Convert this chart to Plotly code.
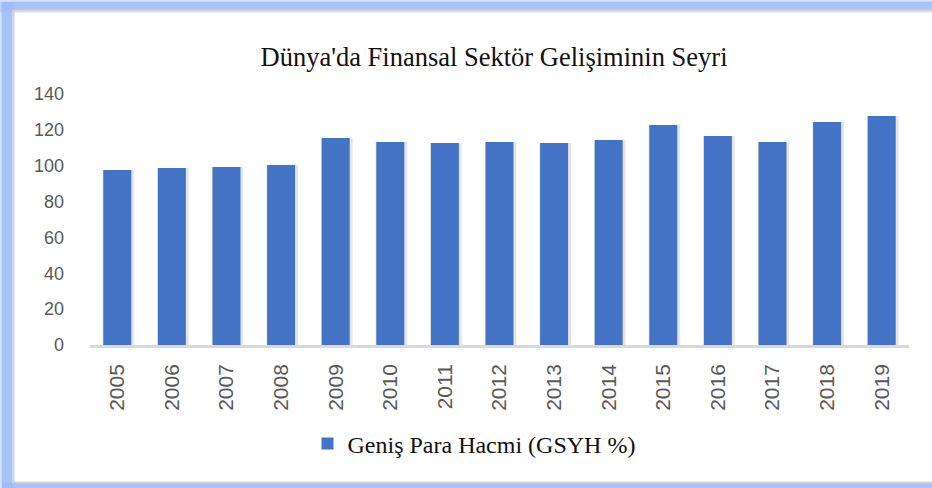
import plotly.graph_objects as go

years = ["2005", "2006", "2007", "2008", "2009", "2010", "2011", "2012",
         "2013", "2014", "2015", "2016", "2017", "2018", "2019"]
values = [97.6, 98.7, 99.3, 100.4, 115.4, 113.2, 112.7, 113.2,
          112.7, 114.3, 122.7, 116.6, 113.2, 124.4, 127.7]
series_name = "Geniş Para Hacmi (GSYH %)"
title_text = "Dünya'da Finansal Sektör Gelişiminin Seyri"
y_ticks = [0, 20, 40, 60, 80, 100, 120, 140]

W, H = 932, 488
ML, MR, MT, MB = 90, 23, 94, 143
PW, PH = W - ML - MR, H - MT - MB


def px(x):
    return (x - ML) / PW


def py(y):
    return (H - MB - y) / PH


fig = go.Figure()

# soft shadow behind bars
fig.add_trace(go.Bar(
    x=years, y=values, width=0.58, offset=-0.27,
    marker=dict(color="rgba(0,0,0,0.10)", line=dict(width=0)),
    showlegend=False, hoverinfo="skip",
))
fig.add_trace(go.Bar(
    x=years, y=values, name=series_name, width=0.513,
    marker=dict(color="#4472C4", line=dict(width=0)),
))

shapes = []
# frame: blurred blue bands
for op, grow in [(0.25, 3), (0.45, 1.5), (0.75, 0)]:
    shapes.append(dict(type="rect", xref="paper", yref="paper",
                       x0=px(2 - grow), x1=px(W + 5), y0=py(2 - grow), y1=py(10 + grow),
                       fillcolor="#9dbcf5", opacity=op, line=dict(width=0), layer="below"))
    shapes.append(dict(type="rect", xref="paper", yref="paper",
                       x0=px(2 - grow), x1=px(12 + grow), y0=py(2), y1=py(H + 5),
                       fillcolor="#9dbcf5", opacity=op, line=dict(width=0), layer="below"))
    shapes.append(dict(type="rect", xref="paper", yref="paper",
                       x0=px(2), x1=px(W + 5), y0=py(483 - grow * 0.5), y1=py(H + 5),
                       fillcolor="#9dbcf5", opacity=op, line=dict(width=0), layer="below"))
shapes.append(dict(type="line", xref="paper", yref="paper",
                   x0=px(13.5), x1=px(13.5), y0=py(10.5), y1=py(482.5),
                   line=dict(color="#d4d4d4", width=1.5), layer="below"))
shapes.append(dict(type="line", xref="paper", yref="paper",
                   x0=px(13.5), x1=px(W + 5), y0=py(10.5), y1=py(10.5),
                   line=dict(color="#d4d4d4", width=1.5), layer="below"))
shapes.append(dict(type="line", xref="paper", yref="paper",
                   x0=px(13.5), x1=px(W + 5), y0=py(482.5), y1=py(482.5),
                   line=dict(color="#d4d4d4", width=1.5), layer="below"))

fig.update_layout(
    width=W, height=H,
    margin=dict(l=ML, r=MR, t=MT, b=MB, autoexpand=False),
    paper_bgcolor="white", plot_bgcolor="white",
    barmode="overlay",
    title=dict(text=title_text, x=494 / W, xanchor="center",
               y=1 - 57 / H, yanchor="middle",
               font=dict(family="Liberation Serif", size=26.5, color="#111111")),
    showlegend=True,
    legend=dict(orientation="h", x=px(474), xanchor="center",
                y=py(444), yanchor="middle",
                font=dict(family="Liberation Serif", size=24, color="#111111"),
                itemwidth=30, bgcolor="rgba(0,0,0,0)"),
    shapes=shapes,
    xaxis=dict(type="category", tickangle=-90, showgrid=False, zeroline=False,
               showline=True, linecolor="#d9d9d9", linewidth=2.5,
               ticks="", ticklabelstandoff=8,
               tickfont=dict(family="Liberation Sans", size=21, color="#595959")),
    yaxis=dict(range=[0, 140], tickvals=y_ticks, showgrid=False, zeroline=False,
               showline=False, ticks="", ticklabelstandoff=25,
               tickfont=dict(family="Liberation Sans", size=18, color="#595959")),
)

fig.write_html("out.html",
               config={"displayModeBar": False},
               post_script="document.body.style.margin='0';document.body.style.overflow='hidden';")
